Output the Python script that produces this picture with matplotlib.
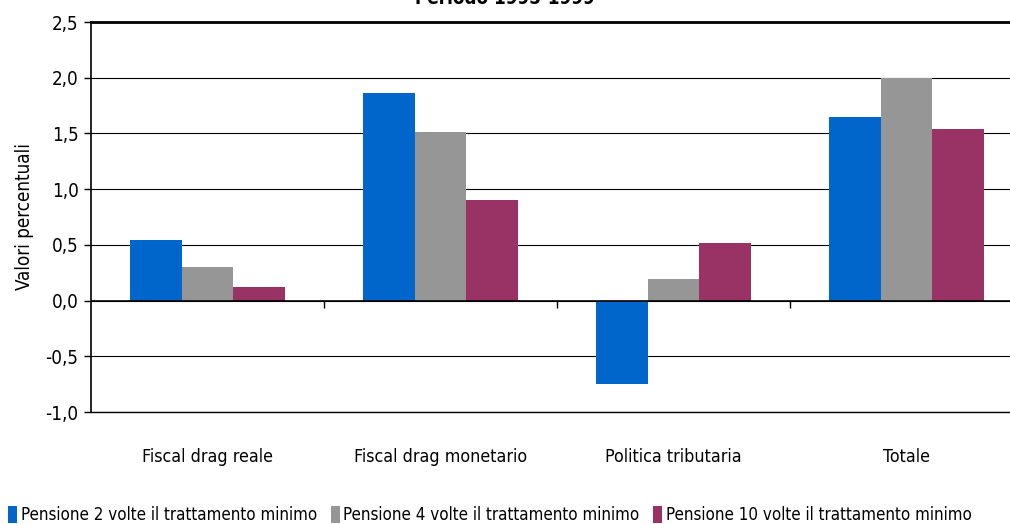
import numpy as np
import matplotlib.pyplot as plt
from matplotlib.ticker import FuncFormatter

plt.rcParams['font.family'] = ['DejaVu Sans']
plt.rcParams['font.stretch'] = 'condensed'

categories = ['Fiscal drag reale', 'Fiscal drag monetario', 'Politica tributaria', 'Totale']
series_names = ['Pensione 2 volte il trattamento minimo',
                'Pensione 4 volte il trattamento minimo',
                'Pensione 10 volte il trattamento minimo']
pens2 = [0.54, 1.86, -0.75, 1.65]
pens4 = [0.30, 1.51, 0.19, 2.00]
pens10 = [0.12, 0.90, 0.52, 1.54]
colors = ['#0066CC', '#969696', '#993366']
yticks = [-1.0, -0.5, 0.0, 0.5, 1.0, 1.5, 2.0, 2.5]

fig = plt.figure(figsize=(10.1, 5.24), dpi=100)
ax = fig.add_axes([91/1010, 1-412/524, 932/1010, 390/524])

x = np.arange(len(categories))
w = 1/4.5
for i, (vals, name, c) in enumerate(zip([pens2, pens4, pens10], series_names, colors)):
    ax.bar(x + (i-1)*w, vals, w, color=c, label=name, zorder=3)

ax.set_xlim(-0.5, 3.5)
ax.set_ylim(-1.0, 2.5)
ax.set_yticks(yticks)
ax.yaxis.set_major_formatter(FuncFormatter(lambda v, p: f'{v:.1f}'.replace('.', ',')))
ax.grid(axis='y', color='black', lw=0.8, zorder=0)
ax.tick_params(axis='y', direction='out', length=5, width=1, labelsize=13.5, pad=4)
ax.set_xticks(x)
ax.set_xticklabels(categories, fontsize=12.8)
ax.tick_params(axis='x', length=0, pad=26)
for s in ['right', 'bottom']:
    ax.spines[s].set_visible(False)
ax.spines['left'].set_linewidth(1.2)
ax.spines['top'].set_linewidth(2)
ax.axhline(0, color='black', lw=1.2, zorder=4)
ax.axhline(-1.0, color='black', lw=1.0, zorder=4, clip_on=False)
ax.vlines([0.5, 1.5, 2.5], -0.07, 0, color='black', lw=1, zorder=4)
ax.set_ylabel('Valori percentuali', fontsize=13.5, labelpad=8)

fig.text(0.5, 1 + 1/524, 'Periodo 1995-1999', ha='center', va='center',
         fontsize=13.5, fontweight='bold')

ax.legend(loc='lower left', bbox_to_anchor=(-0.002, -0.02), bbox_transform=fig.transFigure,
          ncol=3, frameon=False, fontsize=12.2, handlelength=0.55, handleheight=1.1,
          handletextpad=0.2, columnspacing=0.8, borderaxespad=0.2)

fig.savefig('out.png', dpi=100)
